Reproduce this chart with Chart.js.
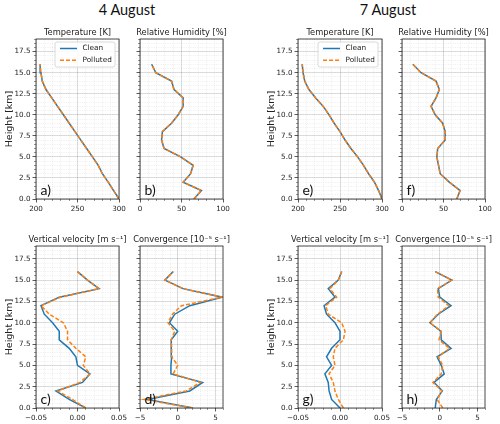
<!DOCTYPE html>
<html>
<head>
<meta charset="utf-8">
<script src="https://cdn.jsdelivr.net/npm/chart.js@4.4.1/dist/chart.umd.min.js"></script>
<style>
  body { margin: 0; background: #fff; width: 500px; height: 424px; position: relative; overflow: hidden; }
  canvas { position: absolute; }
  .sup { position: absolute; font-family: Lato, sans-serif; font-size: 14.5px; line-height: 14.5px; color: #111; transform: translateX(-50%); white-space: nowrap; }
</style>
</head>
<body>
<div class="sup" style="left:127px;top:3px">4 August</div>
<div class="sup" style="left:388px;top:3px">7 August</div>
<script>
// heights of the model levels (km)
const heights = [0, 1, 2, 3, 4, 5, 6, 7, 8, 9, 10, 11, 12, 13, 14, 15, 16];

// 4 August
const tempAug4Clean    = [300, 293.5, 287, 280, 275, 268, 261, 254, 247, 240, 233, 226, 219, 212, 207.5, 206, 205];
const tempAug4Polluted = [300, 293.5, 287, 280, 275, 268, 261, 254, 247, 240, 233, 226, 219, 212, 207.5, 206, 205];
const rhAug4Clean      = [65, 74, 52, 61, 64, 49, 29, 26, 27, 38, 46, 52, 52, 41, 38, 19, 14];
const rhAug4Polluted   = [65, 74, 52, 61, 64, 49, 29, 26, 27, 38, 46, 52, 52, 41, 38, 19, 14];
const velAug4Clean     = [0.010, -0.010, -0.026, 0.006, 0.015, 0.000, -0.002, -0.010, -0.022, -0.022, -0.030, -0.040, -0.044, -0.022, 0.026, 0.012, 0.000];
const velAug4Polluted  = [0.010, -0.006, -0.024, 0.003, 0.015, 0.007, 0.010, -0.002, -0.012, -0.012, -0.017, -0.034, -0.044, -0.020, 0.026, 0.012, 0.000];
const convAug4Clean    = [2.0, -4.0, 1.6, 3.3, -0.9, -0.9, -0.8, -0.86, -0.86, 0.0, -1.1, -0.4, 1.6, 5.9, 0.7, -1.7, -0.6];
const convAug4Polluted = [2.0, -4.5, 1.1, 3.0, -0.6, 0.0, -0.8, -0.8, -0.86, -0.4, -1.3, -0.7, 0.5, 5.9, 0.7, -1.7, -0.6];

// 7 August
const tempAug7Clean    = [300, 296, 291, 284, 278, 271, 263, 256, 250, 243, 237, 230, 221, 213, 208, 206, 205];
const tempAug7Polluted = [300, 296, 291, 284, 278, 271, 263, 256, 250, 243, 237, 230, 221, 213, 208, 206, 205];
const rhAug7Clean      = [66, 70, 57, 46, 44, 42, 43, 52, 52, 49, 40, 35, 41, 45, 41, 23, 13];
const rhAug7Polluted   = [66, 70, 57, 46, 44, 42, 43, 52, 52, 49, 40, 35, 41, 45, 41, 23, 13];
const velAug7Clean     = [0.000, -0.010, -0.013, -0.014, -0.018, -0.010, -0.016, -0.010, 0.000, 0.000, -0.006, -0.016, -0.019, -0.006, -0.014, -0.002, 0.002];
const velAug7Polluted  = [0.004, -0.002, -0.006, -0.008, -0.013, -0.006, -0.008, -0.006, 0.004, 0.006, 0.002, -0.014, -0.017, -0.004, -0.012, -0.002, 0.002];
const convAug7Clean    = [-0.6, -0.45, 0.35, -0.75, 0.6, 0.2, -0.35, 1.5, 0.2, 0.15, -1.3, -0.2, 1.5, 0.0, -0.2, 1.6, -0.6];
const convAug7Polluted = [0.4, -0.35, 0.3, -0.9, 0.2, 0.4, -0.2, 1.3, -0.1, 0.2, -1.3, -0.3, 1.2, -0.2, -0.3, 1.6, -0.6];

const heightTicks = [0, 2.5, 5, 7.5, 10, 12.5, 15, 17.5];

const cleanColor = '#1f77b4';
const pollutedColor = '#ff7f0e';

function signed(v, d) {
  if (Math.abs(v) < 1e-9) return (0).toFixed(d);
  return (v < 0 ? '\u2212' : '') + Math.abs(v).toFixed(d);
}

const tempAxis = { min: 200, max: 300, major: 50, minor: 10, fmt: v => signed(v, 0) };
const rhAxis   = { min: 0, max: 100, major: 50, minor: 10, fmt: v => signed(v, 0) };
const velAxis  = { min: -0.05, max: 0.05, major: 0.05, minor: 0.01, fmt: v => signed(v, 2) };
const convAxis = { min: -5, max: 6, major: 5, minor: 1, fmt: v => signed(v, 0) };

const panels = [
  { tag: 'a)', title: 'Temperature [K]', ax: tempAxis, clean: tempAug4Clean, polluted: tempAug4Polluted, L: 36, R: 119, T: 39, B: 199, first: true, legend: true },
  { tag: 'b)', title: 'Relative Humidity [%]', ax: rhAxis, clean: rhAug4Clean, polluted: rhAug4Polluted, L: 140, R: 223, T: 39, B: 199 },
  { tag: 'e)', title: 'Temperature [K]', ax: tempAxis, clean: tempAug7Clean, polluted: tempAug7Polluted, L: 298, R: 382, T: 39, B: 199, first: true, legend: true },
  { tag: 'f)', title: 'Relative Humidity [%]', ax: rhAxis, clean: rhAug7Clean, polluted: rhAug7Polluted, L: 402, R: 485, T: 39, B: 199 },
  { tag: 'c)', title: 'Vertical velocity [m s\u207B\u00B9]', ax: velAxis, clean: velAug4Clean, polluted: velAug4Polluted, L: 36, R: 119, T: 246, B: 408, first: true },
  { tag: 'd)', title: 'Convergence [10\u207B\u2075 s\u207B\u00B9]', ax: convAxis, clean: convAug4Clean, polluted: convAug4Polluted, L: 140, R: 223, T: 246, B: 408 },
  { tag: 'g)', title: 'Vertical velocity [m s\u207B\u00B9]', ax: velAxis, clean: velAug7Clean, polluted: velAug7Polluted, L: 298, R: 382, T: 246, B: 408, first: true },
  { tag: 'h)', title: 'Convergence [10\u207B\u2075 s\u207B\u00B9]', ax: convAxis, clean: convAug7Clean, polluted: convAug7Polluted, L: 402, R: 485, T: 246, B: 408 }
];

const Wy = 36, Hx = 14, TOP = 22;
const tickFont = { family: 'DejaVu Sans', size: 7.2 };
const titleFont = { family: 'DejaVu Sans', size: 8.3, weight: 'normal', lineHeight: 1.2 };
const titlePadBottom = 1.5;
const titleH = titleFont.size * titleFont.lineHeight + titlePadBottom;
const majorGrid = 'rgba(0,0,0,0.15)';
const minorGrid = 'rgba(0,0,0,0.12)';

// axes frame on all four sides
const framePlugin = {
  id: 'frame',
  afterDatasetsDraw(chart) {
    const { ctx, chartArea: a } = chart;
    ctx.save();
    ctx.strokeStyle = '#222';
    ctx.lineWidth = 0.8;
    ctx.strokeRect(a.left, a.top, a.right - a.left, a.bottom - a.top);
    ctx.restore();
  }
};

// "a)", "b)" ... in the lower left corner
const tagPlugin = {
  id: 'tag',
  afterDatasetsDraw(chart, args, opts) {
    const { ctx, chartArea: a } = chart;
    ctx.save();
    ctx.font = '14px Lato';
    ctx.fillStyle = '#111';
    ctx.textBaseline = 'alphabetic';
    ctx.fillText(opts.text, a.left + 4.5, a.bottom - 4);
    ctx.restore();
  }
};

// matplotlib-style legend box in the upper right
const legendBox = {
  id: 'legendBox',
  afterDatasetsDraw(chart, args, opts) {
    if (!opts.show) return;
    const { ctx, chartArea: a } = chart;
    const x0 = a.right - 64, y0 = a.top + 3, w = 60, h = 25;
    ctx.save();
    ctx.fillStyle = 'rgba(255,255,255,0.85)';
    ctx.strokeStyle = '#d0d0d0';
    ctx.lineWidth = 0.8;
    ctx.beginPath();
    ctx.roundRect(x0, y0, w, h, 2);
    ctx.fill();
    ctx.stroke();
    chart.data.datasets.forEach((ds, i) => {
      const y = y0 + 6.5 + i * 11.7;
      ctx.strokeStyle = ds.borderColor;
      ctx.lineWidth = ds.borderWidth;
      ctx.setLineDash(ds.borderDash || []);
      ctx.beginPath();
      ctx.moveTo(x0 + 5, y);
      ctx.lineTo(x0 + 22, y);
      ctx.stroke();
      ctx.setLineDash([]);
      ctx.fillStyle = '#222';
      ctx.font = '7.3px "DejaVu Sans"';
      ctx.textBaseline = 'middle';
      ctx.fillText(ds.label, x0 + 27.5, y);
    });
    ctx.restore();
  }
};

panels.forEach(p => {
  const cv = document.createElement('canvas');
  const w = Wy + (p.R - p.L) + Wy;
  const h = TOP + (p.B - p.T) + Hx;
  cv.width = w;
  cv.height = h;
  cv.style.left = (p.L - Wy) + 'px';
  cv.style.top = (p.T - TOP) + 'px';
  cv.style.width = w + 'px';
  cv.style.height = h + 'px';
  document.body.appendChild(cv);

  const ax = p.ax;
  new Chart(cv, {
    type: 'scatter',
    data: {
      datasets: [{
        label: 'Clean',
        data: heights.map((z, i) => ({ x: p.clean[i], y: z })),
        showLine: true,
        borderColor: cleanColor,
        borderWidth: 1.5,
        pointRadius: 0,
        order: 2,
        xAxisID: 'x',
        yAxisID: 'y'
      }, {
        label: 'Polluted',
        data: heights.map((z, i) => ({ x: p.polluted[i], y: z })),
        showLine: true,
        borderColor: pollutedColor,
        borderWidth: 1.5,
        borderDash: [4, 2],
        pointRadius: 0,
        order: 1,
        xAxisID: 'x',
        yAxisID: 'y'
      }]
    },
    options: {
      responsive: false,
      animation: false,
      devicePixelRatio: 1,
      layout: { padding: { top: TOP - titleH, left: 0, right: 0, bottom: 0 } },
      plugins: {
        legend: { display: false },
        tooltip: { enabled: false },
        title: {
          display: true,
          text: p.title,
          font: titleFont,
          color: '#222',
          padding: { top: 0, bottom: titlePadBottom }
        },
        tag: { text: p.tag },
        legendBox: { show: !!p.legend }
      },
      scales: {
        x: {
          type: 'linear', axis: 'x', position: 'bottom', weight: 0,
          min: ax.min, max: ax.max,
          ticks: { stepSize: ax.major, includeBounds: false, autoSkip: false, maxRotation: 0,
                   font: tickFont, color: '#222', padding: 2, callback: v => ax.fmt(v) },
          grid: { color: majorGrid, lineWidth: 0.8, tickColor: '#333', tickLength: 3.5 },
          border: { display: false },
          afterFit: s => { s.height = Hx; }
        },
        xm: {
          type: 'linear', axis: 'x', position: 'bottom', weight: -1,
          min: ax.min, max: ax.max,
          ticks: { display: false, stepSize: ax.minor, includeBounds: false },
          grid: { color: minorGrid, lineWidth: 0.6, tickColor: '#555', tickLength: 2 },
          border: { display: false, dash: [1, 1.3] },
          afterFit: s => { s.height = 0; }
        },
        y: {
          type: 'linear', axis: 'y', position: 'left', weight: 0,
          min: 0, max: 19,
          afterBuildTicks: s => { s.ticks = heightTicks.map(v => ({ value: v })); },
          ticks: { display: !!p.first, autoSkip: false, font: tickFont, color: '#222', padding: 2,
                   callback: v => v.toFixed(1) },
          grid: { color: majorGrid, lineWidth: 0.8, tickColor: '#333', tickLength: 3.5 },
          border: { display: false },
          title: { display: !!p.first, text: 'Height [km]', color: '#222',
                   font: { family: 'DejaVu Sans', size: 9.5 }, padding: { top: 3.5, bottom: 0 } },
          afterFit: s => { s.width = Wy; }
        },
        ym: {
          type: 'linear', axis: 'y', position: 'left', weight: -1,
          min: 0, max: 19,
          ticks: { display: false, stepSize: 0.5, includeBounds: false },
          grid: { color: minorGrid, lineWidth: 0.6, tickColor: '#555', tickLength: 2 },
          border: { display: false, dash: [1, 1.3] },
          afterFit: s => { s.width = 0; }
        },
        yr: {
          type: 'linear', axis: 'y', position: 'right',
          ticks: { display: false },
          grid: { display: false },
          border: { display: false },
          afterFit: s => { s.width = Wy; }
        }
      }
    },
    plugins: [framePlugin, tagPlugin, legendBox]
  });
});
</script>
</body>
</html>
